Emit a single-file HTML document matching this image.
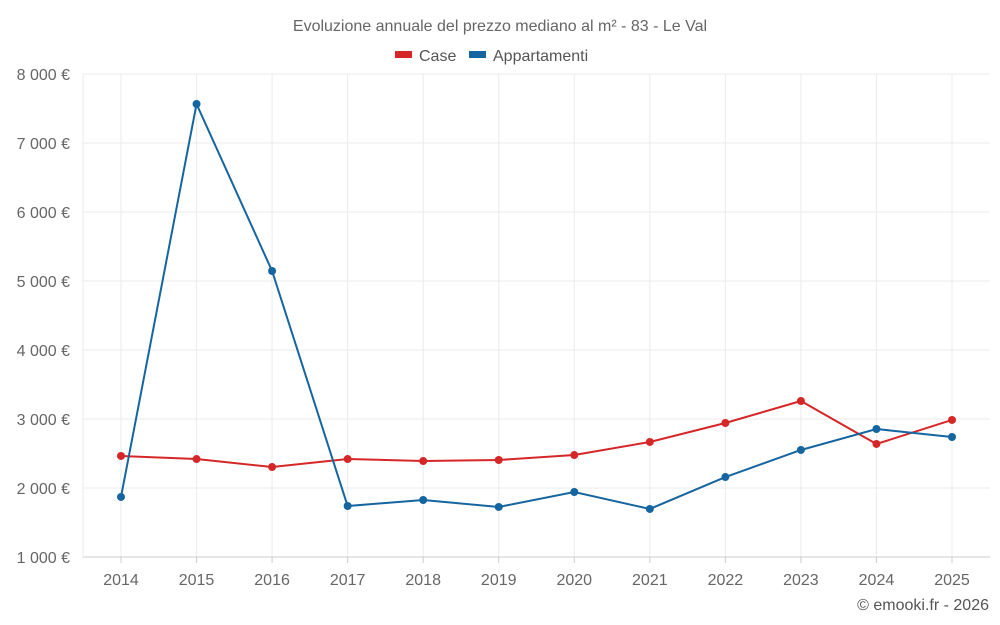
<!DOCTYPE html>
<html><head><meta charset="utf-8">
<style>
html,body{margin:0;padding:0;background:#fff;}
svg{display:block;font-family:"Liberation Sans",sans-serif;}
</style></head>
<body>
<svg id="chart" width="1000" height="625">
  <text x="500" y="31" text-anchor="middle" font-size="16" fill="#666">Evoluzione annuale del prezzo mediano al m² - 83 - Le Val</text>
  <g>
    <g>
      <rect x="395" y="51" width="17" height="7" fill="#d62728"></rect>
      <text x="419" y="61" font-size="16" fill="#555">Case</text>
    </g>
    <g>
      <rect x="469" y="51" width="17" height="7" fill="#1565a0"></rect>
      <text x="493" y="61" font-size="16" fill="#555">Appartamenti</text>
    </g>
  </g>
  <g id="grid"></g>
  <g id="axes"></g>
  <g id="series"></g>
  <text x="989" y="610" text-anchor="end" font-size="16" fill="#555">© emooki.fr - 2026</text>
</svg>
<script>
const years = [2014,2015,2016,2017,2018,2019,2020,2021,2022,2023,2024,2025];
const caseValues = [2464,2420,2304,2420,2391,2406,2478,2667,2942,3261,2638,2986];
const appValues = [1870,7565,5145,1739,1826,1725,1942,1696,2159,2551,2855,2739];
const yTicks = [1000,2000,3000,4000,5000,6000,7000,8000];
const yTickLabels = ["1 000 €","2 000 €","3 000 €","4 000 €","5 000 €","6 000 €","7 000 €","8 000 €"];

const L=83,R=990,T=74,B=557;
const ns="http://www.w3.org/2000/svg";
function x(i){return 121 + i*(952-121)/(years.length-1);}
function y(v){return B-(v-1000)/(8000-1000)*(B-T);}
function mk(tag,attrs,parent){const e=document.createElementNS(ns,tag);for(const k in attrs)e.setAttribute(k,attrs[k]);parent.appendChild(e);return e;}
const grid=document.getElementById('grid'),axes=document.getElementById('axes'),series=document.getElementById('series');

yTicks.forEach((t,i)=>{
  const l=mk('line',{x1:L,x2:R,y1:y(t),y2:y(t),stroke:'#ebebeb','stroke-width':1},grid);
  
  
  const tx=mk('text',{x:70,y:y(t)+6,'text-anchor':'end','font-size':16,fill:'#666'},axes);
  tx.textContent=yTickLabels[i];
  
  
});
years.forEach((yr,i)=>{
  const l=mk('line',{x1:x(i),x2:x(i),y1:T,y2:B,stroke:'#ebebeb','stroke-width':1},grid);
  
  
  const tk=mk('line',{x1:x(i),x2:x(i),y1:B,y2:B+6,stroke:'#ccc'},axes);
  
  
  const tx=mk('text',{x:x(i),y:585,'text-anchor':'middle','font-size':16,fill:'#666'},axes);
  tx.textContent=yr;
  
  
});
const ax=mk('line',{x1:L,x2:R,y1:B,y2:B,stroke:'#ccc'},axes);


const ayl=mk('line',{x1:L,x2:L,y1:T,y2:B,stroke:'#ebebeb'},axes);



function drawSeries(vals,color,name){
  const pts=vals.map((v,i)=>x(i)+','+y(v)).join(' ');
  const pl=mk('polyline',{points:pts,fill:'none',stroke:color,'stroke-width':2},series);
  
  
  vals.forEach((v,i)=>{
    const c=mk('circle',{cx:x(i),cy:y(v),r:4,fill:color},series);
    
    
  });
}
drawSeries(caseValues,'#d62728','case');
drawSeries(appValues,'#1565a0','appartamenti');
</script>
</body></html>
